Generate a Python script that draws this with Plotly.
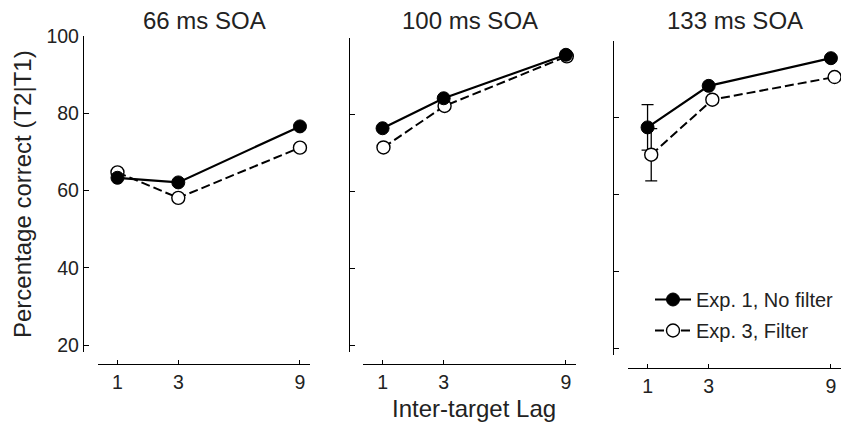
import plotly.graph_objects as go

# ---------------- data ----------------
lags = [1, 3, 9]
lag_axis_pos = [1, 3, 7]          # axis position of each lag (as in the original axis)
lag_tick_text = ["1", "3", "9"]
y_ticks = [20, 40, 60, 80, 100]

soa_titles = ["66 ms SOA", "100 ms SOA", "133 ms SOA"]
series_names = ["Exp. 1, No filter", "Exp. 3, Filter"]

exp1_66 = [63.3, 62.1, 76.6]
exp3_66 = [64.7, 58.1, 71.1]
exp1_100 = [76.4, 84.2, 95.5]
exp3_100 = [71.4, 82.2, 95.1]
exp1_133 = [77.4, 88.2, 95.4]
exp3_133 = [70.3, 84.6, 90.5]

# error bars (only shown at lag 1, 133 ms SOA)
err_exp1_133_lag1 = 5.9
err_exp3_133_lag1 = 6.8

# ---------------- layout helpers ----------------
PAGE_OFFSET = 8                  # default page body margin
W, H = 856 - PAGE_OFFSET, 425 - PAGE_OFFSET
def px(x):
    return (x - PAGE_OFFSET) / W
def py(y):
    return 1 - (y - PAGE_OFFSET) / H

FONT = "Liberation Sans, Arial, Helvetica, sans-serif"
TXT = "#222222"

# panel geometry in screen pixels: x-domain, y-domain(top,bottom), y-axis x pos, x-axis y pos
panels = [
    dict(xd=(98, 310), yd=(36, 352), yax=83, xax=364),
    dict(xd=(363, 576), yd=(37.5, 352), yax=349, xax=364),
    dict(xd=(628, 841), yd=(40.5, 355), yax=613, xax=368),
]
open_dodge = [0.0, 0.03, 0.12]

data_exp1 = [exp1_66, exp1_100, exp1_133]
data_exp3 = [exp3_66, exp3_100, exp3_133]

fig = go.Figure()

for i, p in enumerate(panels):
    n = "" if i == 0 else str(i + 1)
    xa, ya = "x" + n, "y" + n
    # error bars for the 133 ms panel (drawn first so markers sit on top)
    if i == 2:
        fig.add_trace(go.Scatter(
            x=[lag_axis_pos[0]], y=[data_exp1[i][0]], xaxis=xa, yaxis=ya,
            mode="markers", marker=dict(size=1, opacity=0),
            error_y=dict(type="data", array=[err_exp1_133_lag1], color="black",
                         thickness=1.3, width=6),
            showlegend=False, hoverinfo="skip"))
        fig.add_trace(go.Scatter(
            x=[lag_axis_pos[0] + open_dodge[i]], y=[data_exp3[i][0]], xaxis=xa, yaxis=ya,
            mode="markers", marker=dict(size=1, opacity=0),
            error_y=dict(type="data", array=[err_exp3_133_lag1], color="black",
                         thickness=1.3, width=6),
            showlegend=False, hoverinfo="skip"))
    fig.add_trace(go.Scatter(
        x=[v + open_dodge[i] for v in lag_axis_pos], y=data_exp3[i], xaxis=xa, yaxis=ya,
        mode="lines+markers", name=series_names[1], legendgroup="exp3",
        line=dict(color="black", width=2, dash="9px,4px"),
        marker=dict(symbol="circle", size=13, color="white",
                    line=dict(color="black", width=1.4)),
        showlegend=(i == 2), legendrank=2))
    fig.add_trace(go.Scatter(
        x=lag_axis_pos, y=data_exp1[i], xaxis=xa, yaxis=ya,
        mode="lines+markers", name=series_names[0], legendgroup="exp1",
        line=dict(color="black", width=2.2),
        marker=dict(symbol="circle", size=13, color="black",
                    line=dict(color="black", width=1)),
        showlegend=(i == 2), legendrank=1))

    xd, yd = p["xd"], p["yd"]
    fig.layout["xaxis" + n] = dict(
        domain=[px(xd[0]), px(xd[1])], anchor="free", position=py(p["xax"]),
        range=[0.36, 7.33], tickvals=lag_axis_pos, ticktext=lag_tick_text,
        ticks="inside", ticklen=4, tickwidth=1.3, tickcolor="black",
        showline=True, linecolor="black", linewidth=1.3,
        showgrid=False, zeroline=False, automargin=False,
        tickfont=dict(family=FONT, size=19.5, color=TXT))
    fig.layout["yaxis" + n] = dict(
        domain=[py(yd[1]), py(yd[0])], anchor="free", position=px(p["yax"]),
        range=[18.2, 100], tickvals=y_ticks, showticklabels=(i == 0),
        ticks="inside", ticklen=5, tickwidth=1.3, tickcolor="black",
        showline=True, linecolor="black", linewidth=1.3,
        showgrid=False, zeroline=False, automargin=False,
        tickfont=dict(family=FONT, size=19.5, color=TXT))

annotations = []
for i, p in enumerate(panels):
    annotations.append(dict(
        text=soa_titles[i], xref="paper", yref="paper",
        x=px((p["xd"][0] + p["xd"][1]) / 2), y=py(20), xanchor="center", yanchor="middle",
        showarrow=False, font=dict(family=FONT, size=24, color=TXT)))
annotations.append(dict(
    text="Inter-target Lag", xref="paper", yref="paper",
    x=px(474), y=py(408), xanchor="center", yanchor="middle",
    showarrow=False, font=dict(family=FONT, size=24, color=TXT)))
annotations.append(dict(
    text="Percentage correct (T2|T1)", xref="paper", yref="paper",
    x=px(22), y=py(194), xanchor="center", yanchor="middle", textangle=-90,
    showarrow=False, font=dict(family=FONT, size=24, color=TXT)))

fig.update_layout(
    width=W, height=H,
    margin=dict(l=0, r=0, t=0, b=0, autoexpand=False),
    paper_bgcolor="white", plot_bgcolor="white",
    annotations=annotations,
    legend=dict(x=px(650), y=py(280), xanchor="left", yanchor="top",
                bgcolor="rgba(0,0,0,0)", font=dict(family=FONT, size=20, color=TXT),
                itemwidth=36, tracegroupgap=2, traceorder="grouped"),
    showlegend=True,
)

fig.write_html("out.html")
